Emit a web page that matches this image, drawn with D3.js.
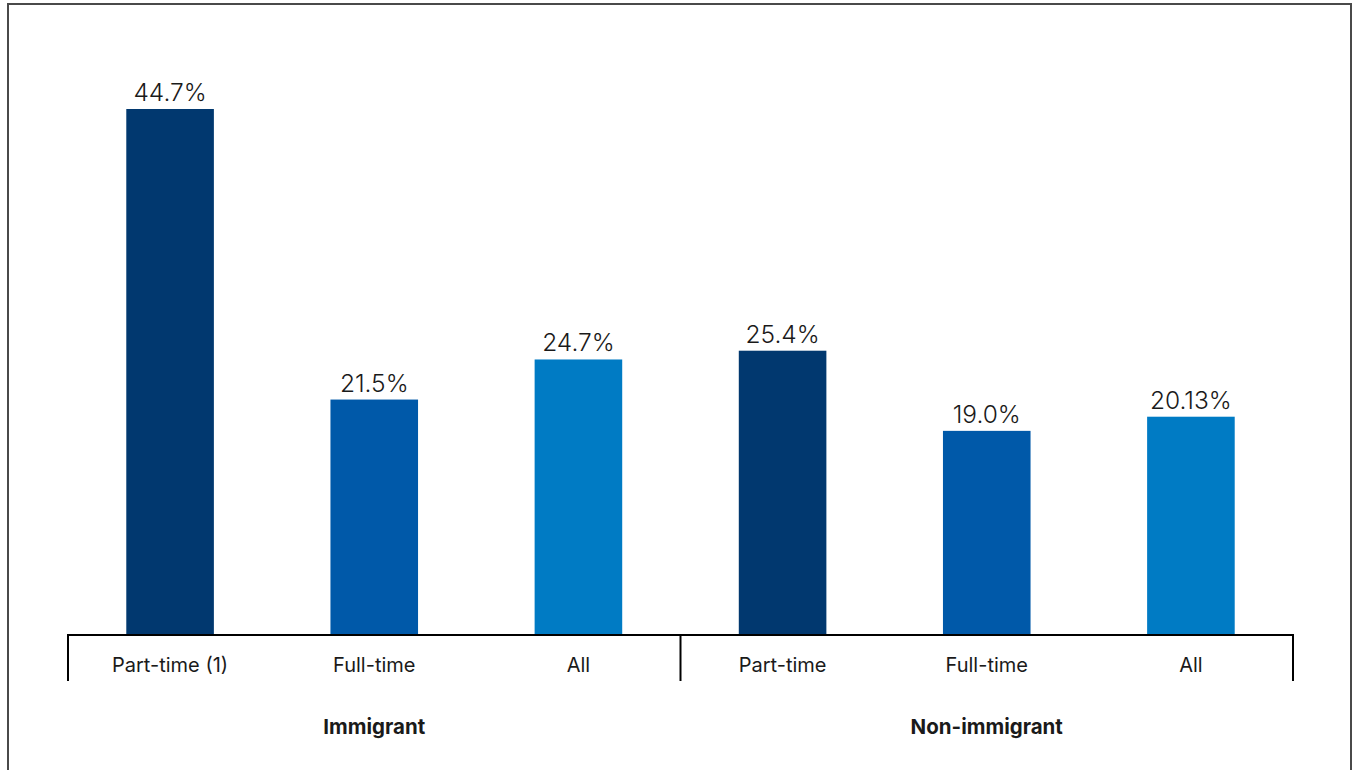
<!DOCTYPE html>
<html>
<head>
<meta charset="utf-8">
<script src="https://cdn.jsdelivr.net/npm/d3@7"></script>
<style>
  html, body { margin: 0; padding: 0; background: #fff; }
  svg { display: block; }
  text { font-family: Inter, "Noto Sans", Roboto, sans-serif; fill: #1a1a1a; }
</style>
</head>
<body>
<svg id="chart" width="1353" height="770"></svg>
<script>
const groups = ["Immigrant", "Non-immigrant"];
const categories = ["Part-time (1)", "Full-time", "All", "Part-time", "Full-time", "All"];
const categoryGroup = ["Immigrant", "Immigrant", "Immigrant", "Non-immigrant", "Non-immigrant", "Non-immigrant"];
const values = [44.7, 21.5, 24.7, 25.4, 19.0, 20.13];
const valueLabels = ["44.7%", "21.5%", "24.7%", "25.4%", "19.0%", "20.13%"];
const colors = ["#01386f", "#0059a9", "#007bc4", "#01386f", "#0059a9", "#007bc4"];

const W = 1353, H = 770;
const left = 68, right = 1293, baseline = 635, topY = 109;
const svg = d3.select("#chart");

// frame
svg.append("path")
  .attr("d", `M8,${H} L8,4 L1351,4 L1351,${H}`)
  .attr("fill", "none").attr("stroke", "#4a4a4a").attr("stroke-width", 2);

const idx = d3.range(categories.length);
const x = d3.scaleBand().domain(idx).range([left, right])
  .paddingInner(0.571).paddingOuter(0.2855);
const y = d3.scaleLinear().domain([2.7, 44.7]).range([baseline, topY]);

svg.selectAll("rect.bar").data(idx).join("rect")
  .attr("class", "bar")
  .attr("x", i => x(i))
  .attr("width", x.bandwidth())
  .attr("y", i => y(values[i]))
  .attr("height", i => baseline - y(values[i]))
  .attr("fill", i => colors[i]);

svg.selectAll("text.val").data(idx).join("text")
  .attr("class", "val")
  .attr("x", i => x(i) + x.bandwidth() / 2)
  .attr("y", i => y(values[i]) - 8)
  .attr("text-anchor", "middle")
  .attr("font-size", 24.5)
  .attr("font-weight", 300)
  .text(i => valueLabels[i]);

// category axis
const xs = d3.scaleBand().domain(idx).range([left, right]);
const axis = svg.append("g").attr("transform", `translate(0,${baseline})`)
  .call(d3.axisBottom(xs).tickSize(0).tickPadding(23).tickFormat(i => categories[i]));
axis.select(".domain").remove();
axis.selectAll("text").attr("font-size", 20).attr("fill", "#1a1a1a")
  .style("font-family", "Inter, 'Noto Sans', sans-serif");

svg.append("line").attr("x1", left - 1).attr("x2", right + 1)
  .attr("y1", baseline).attr("y2", baseline)
  .attr("stroke", "#000").attr("stroke-width", 2);

// group separators and labels
const gx = d3.scaleBand().domain(groups).range([left, right]);
const bounds = [left, gx("Non-immigrant"), right];
svg.selectAll("line.sep").data(bounds).join("line")
  .attr("class", "sep")
  .attr("x1", d => d).attr("x2", d => d)
  .attr("y1", baseline).attr("y2", 681)
  .attr("stroke", "#000").attr("stroke-width", 2);

svg.selectAll("text.grp").data(groups).join("text")
  .attr("class", "grp")
  .attr("x", d => gx(d) + gx.bandwidth() / 2)
  .attr("y", 734)
  .attr("text-anchor", "middle")
  .attr("font-size", 20.5)
  .attr("font-weight", 700)
  .text(d => d);
</script>
</body>
</html>
